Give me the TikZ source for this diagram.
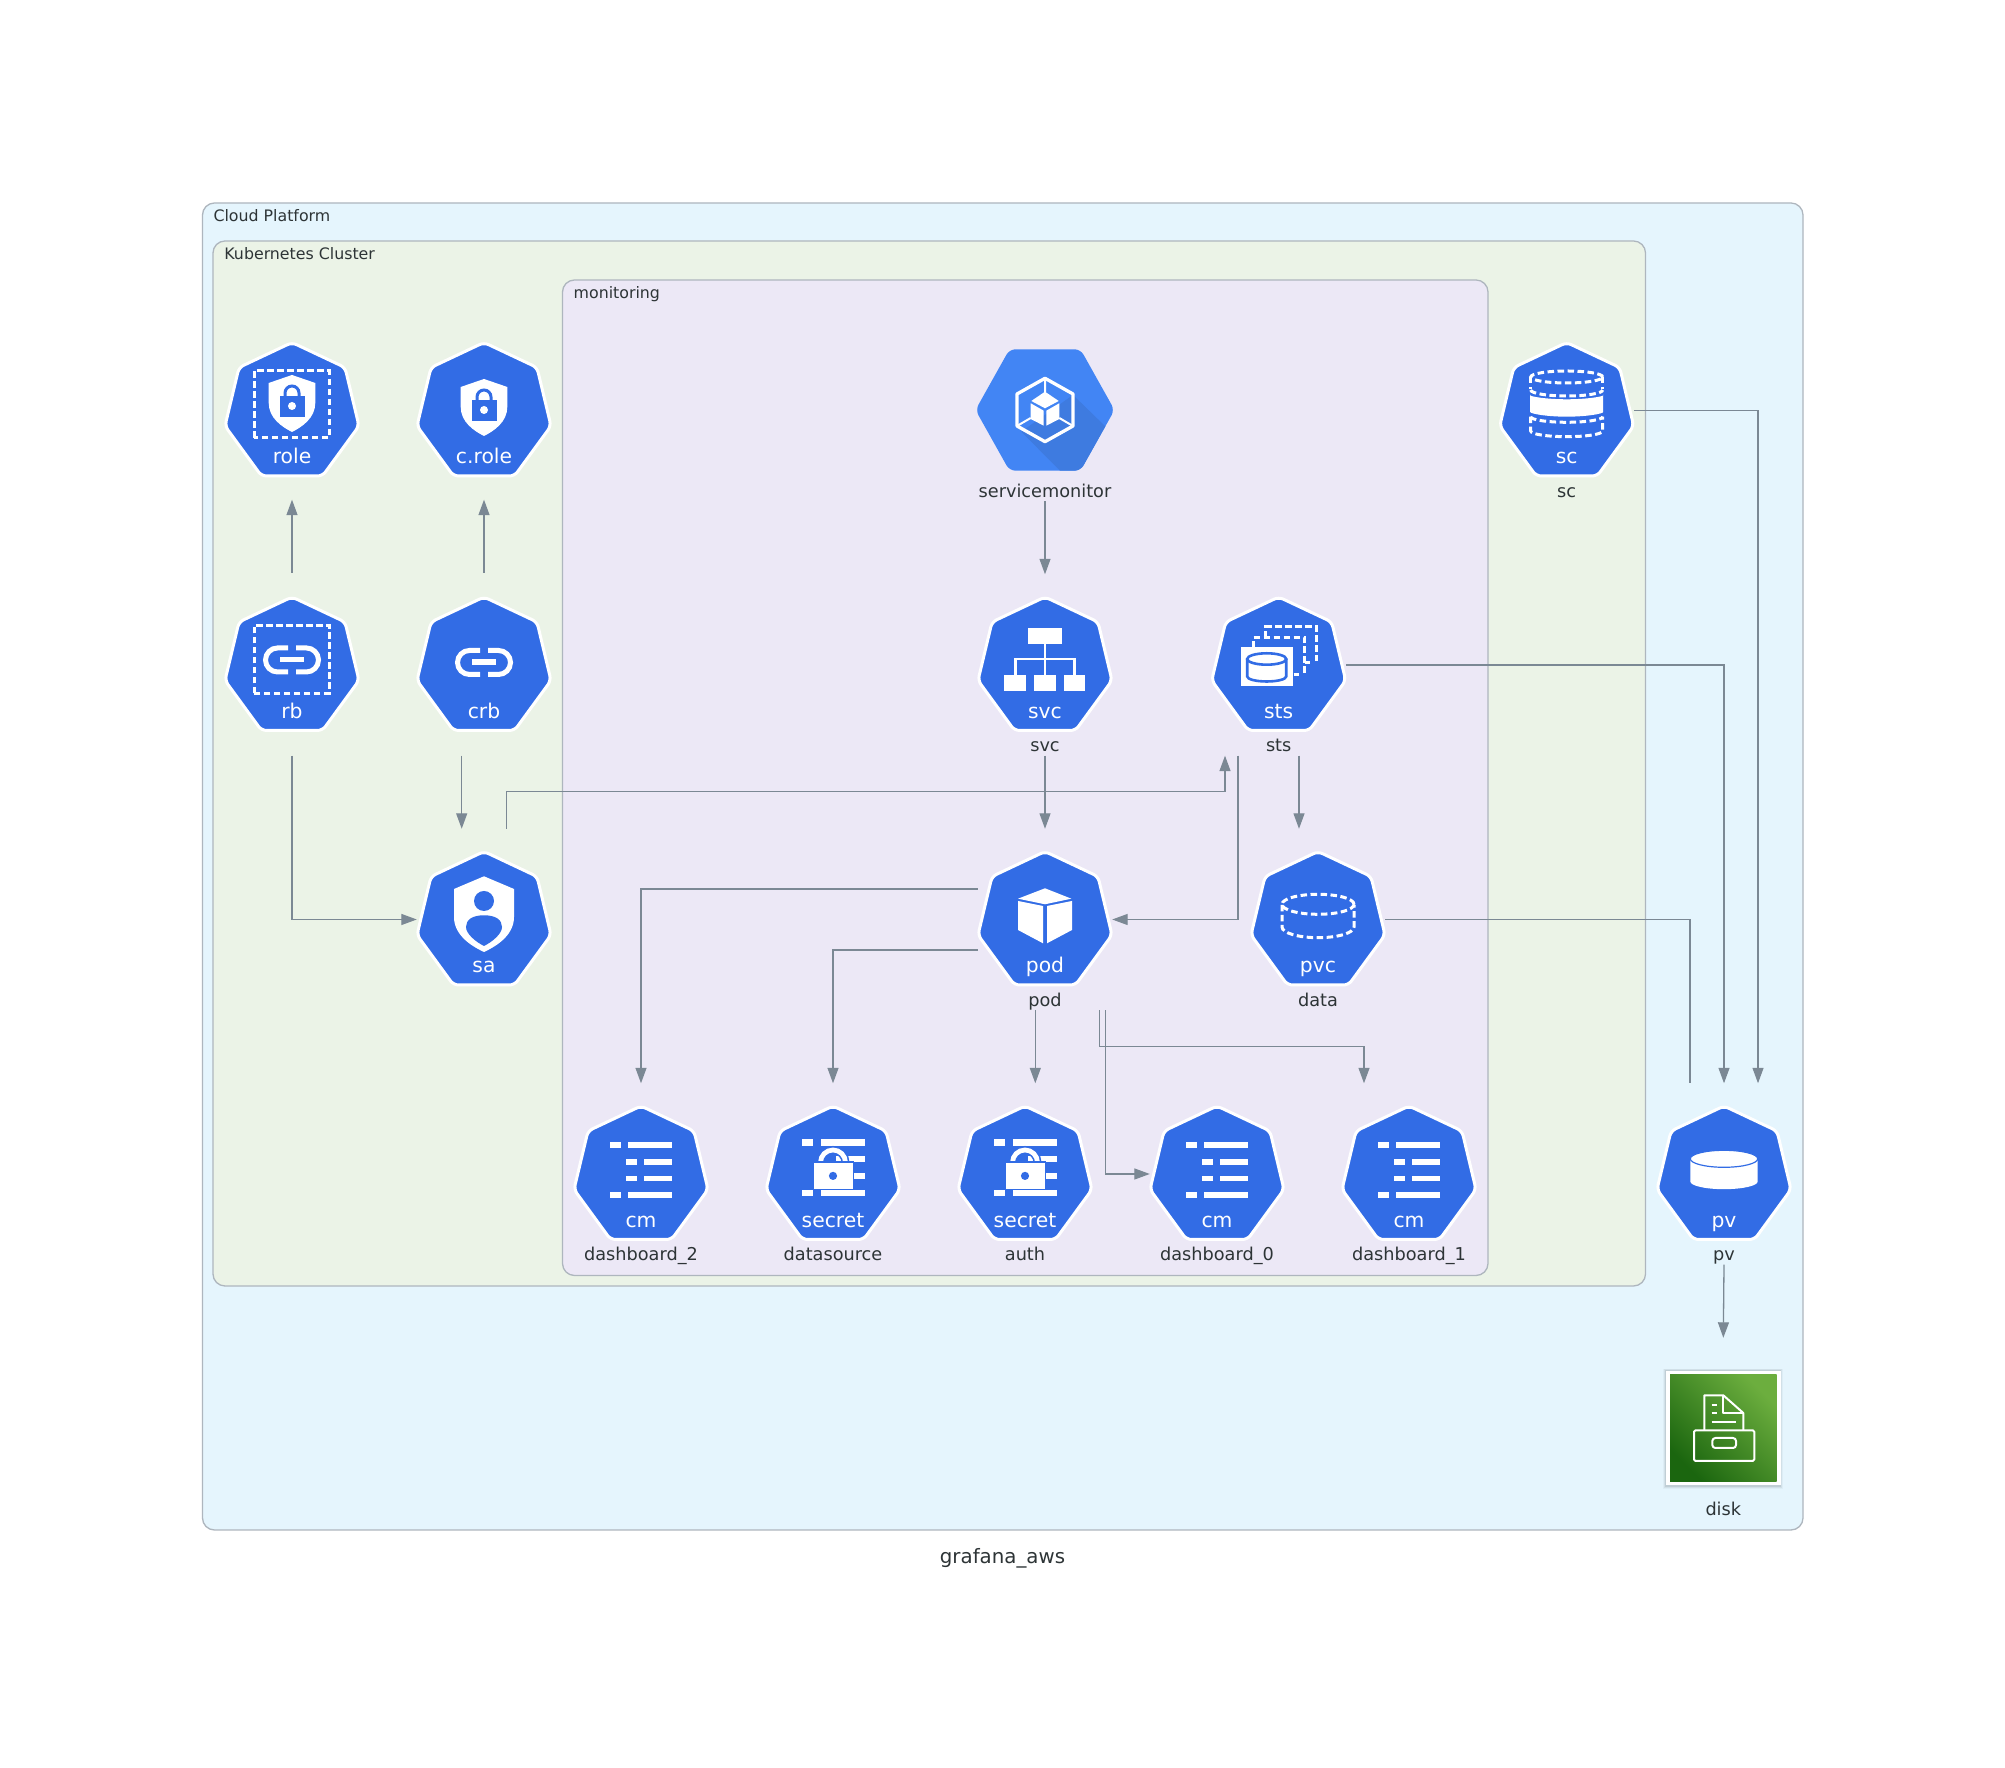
\documentclass[tikz,border=0pt]{standalone}
\usepackage{fontspec}
\setmainfont{DejaVu Sans}
\usetikzlibrary{arrows.meta}
\definecolor{cloudbg}{HTML}{E5F5FD}
\definecolor{clusterbg}{HTML}{EBF3E7}
\definecolor{nsbg}{HTML}{ECE8F6}
\definecolor{clusterline}{HTML}{AEB6BE}
\definecolor{edgegray}{HTML}{7B8894}
\definecolor{textgray}{HTML}{2D3436}
\definecolor{kubeblue}{HTML}{326CE5}
\definecolor{gcpblue}{HTML}{4285F4}
\definecolor{gcpshade}{HTML}{3E7BE0}
\definecolor{diskdark}{HTML}{1B660F}
\definecolor{disklight}{HTML}{6CAE3E}

\newcommand{\shieldlock}{
  \fill[white] (0,35) -- (23.3,27) -- (23.3,7) .. controls (23.3,-8) and (10,-17) .. (0,-22)
    .. controls (-10,-17) and (-23.3,-8) .. (-23.3,7) -- (-23.3,27) -- cycle;
  \draw[kubeblue, line width=3] (-7,12) -- (-7,17) arc (180:0:7) -- (7,12);
  \fill[kubeblue] (-12,-7) rectangle (12.5,14);
  \fill[white] (0,4) circle (4);
}
\newcommand{\chainlink}{
  \draw[white, line width=5] (-4,16.5) -- (-14.5,16.5) arc (90:270:12) -- (-4,-7.5);
  \draw[white, line width=5] (4,16.5) -- (14.5,16.5) arc (90:-90:12) -- (4,-7.5);
  \fill[white] (-12,2.3) rectangle (11.5,7.7);
}

\tikzset{
  boxline/.style={draw=clusterline, line width=1.3, rounded corners=12},
  edge/.style={draw=edgegray, line width=1.3, -{Triangle[length=15.5,width=11]}},
  plainedge/.style={draw=edgegray, line width=1.3},
  kubenode/.style={rectangle, inner sep=0, minimum width=134, minimum height=181},
  kubetext/.style={anchor=base, inner sep=0, text=white, font=\fontsize{20.3}{24}\selectfont},
  kubelabel/.style={anchor=base, inner sep=0, text=textgray, font=\fontsize{17.7}{21}\selectfont},
  boxlabel/.style={anchor=base west, inner sep=0, text=textgray, font=\fontsize{15.8}{19}\selectfont},
  dashline/.style={white, line width=3, dash pattern=on 6.5 off 3.5},
  kubehex/.pic={
    \draw[fill=kubeblue, draw=white, line width=3, rounded corners=5, line join=round]
      (0,67.5) -- (53,42.5) -- (67,-16) -- (30.5,-66) -- (-30.5,-66) -- (-67,-16) -- (-53,42.5) -- cycle;
  },
  role icon/.pic={
    \draw[dashline] (-38,-28) rectangle (37,39);
    \shieldlock
  },
  crole icon/.pic={
    \begin{scope}[shift={(0,-4)}] \shieldlock \end{scope}
  },
  rb icon/.pic={
    \draw[dashline] (-38,-29) rectangle (37,39);
    \chainlink
  },
  crb icon/.pic={
    \begin{scope}[shift={(0,-2.5)}] \chainlink \end{scope}
  },
  sa icon/.pic={
    \fill[white] (0,42.7) -- (30,30) -- (30,2) .. controls (30,-15) and (15,-26) .. (0,-33)
      .. controls (-15,-26) and (-30,-15) .. (-30,2) -- (-30,30) -- cycle;
    \fill[kubeblue] (0,18) circle (10);
    \fill[kubeblue] (0,3.7) .. controls (12,3.7) and (18,-1) .. (18,-8) .. controls (18,-15) and (8,-23) .. (0,-27)
      .. controls (-8,-23) and (-18,-15) .. (-18,-8) .. controls (-18,-1) and (-12,3.7) .. (0,3.7) -- cycle;
  },
  svc icon/.pic={
    \draw[white, line width=2.6] (0,20) -- (0,-11) (-29.5,-11) -- (-29.5,5.3) -- (29.5,5.3) -- (29.5,-11);
    \fill[white] (-17.3,20.3) rectangle (17.3,36);
    \foreach \i in {-40.7, -11, 18.5}
      \fill[white] (\i,-26.3) rectangle +(21.8,15.6);
  },
  sts icon/.pic={
    \draw[dashline] (-13,27) -- (-13,37.7) -- (38,37.7) -- (38,3);
    \draw[dashline] (-25,17) -- (-25,27) -- (26,27) -- (26,-11);
    \draw[white, line width=2.6] (15,-10) -- (20,-10) (26,2) -- (31,2);
    \fill[white] (-37.7,-22) rectangle (14.7,17);
    \draw[kubeblue, line width=2.6, fill=white] (-31.5,5.5) -- (-31.5,-12) arc (180:360:19.5 and 5) -- (7.5,5.5);
    \draw[kubeblue, line width=2.6, fill=white] (-12,5.5) ellipse (19.5 and 5.7);
  },
  pod icon/.pic={
    \fill[white] (0,30.7) -- (26.3,20.3) -- (0,14.7) -- (-27,20.3) -- cycle;
    \fill[white] (-27,18) -- (-2,13) -- (-2,-24.3) -- (-27,-11) -- cycle;
    \fill[white] (27,18) -- (2,13) -- (2,-24.3) -- (27,-11) -- cycle;
  },
  pvc icon/.pic={
    \draw[dashline] (0,14.7) ellipse (36 and 10);
    \draw[dashline] (-36,14) -- (-36,-8) arc (180:360:36 and 10.7) -- (36,14);
  },
  pv icon/.pic={
    \fill[white] (-33.7,14.7) -- (-33.7,-8) arc (180:360:33.7 and 7.7) -- (33.7,14.7) -- cycle;
    \draw[kubeblue, line width=1.2, fill=white] (0,14.7) ellipse (33.7 and 8.5);
  },
  sc icon/.pic={
    \draw[dashline] (0,33) ellipse (36 and 6);
    \draw[dashline] (-36,33) -- (-36,21) (36,33) -- (36,21);
    \draw[dashline] (-36,20) arc (180:360:36 and 6);
    \fill[white, rounded corners=2] (-36.5,16.7) arc (180:360:36.5 and 6) -- (36.5,0) arc (0:-180:36.5 and 6.7) -- cycle;
    \draw[dashline] (-36,-6.7) arc (180:360:36 and 5.6);
    \draw[dashline] (-36,-6.7) -- (-36,-21) arc (180:360:36 and 5.7) -- (36,-6.7);
  },
  cm icon/.pic={
    \foreach \ya/\yb in {25.8/31.7, -24.8/-18.9} {
      \fill[white] (-31.3,\ya) rectangle (-20.3,\yb);
      \fill[white] (-12.7,\ya) rectangle (31.3,\yb);
    }
    \foreach \ya/\yb in {8.6/14.5, -7.9/-2.4} {
      \fill[white] (-15.2,\ya) rectangle (-4.1,\yb);
      \fill[white] (3.4,\ya) rectangle (31.3,\yb);
    }
  },
  secret icon/.pic={
    \foreach \ya/\yb in {27.9/34.1, -22.4/-16.2} {
      \fill[white] (-31,\ya) rectangle (-20,\yb);
      \fill[white] (-12.4,\ya) rectangle (31.7,\yb);
    }
    \foreach \ya/\yb in {11.4/17.2, -5.5/0.3}
      \fill[white] (3.4,\ya) rectangle (31.7,\yb);
    \draw[kubeblue, line width=8] (-12.5,11) arc (180:0:12.5);
    \draw[white, line width=4.8] (-12.5,11) arc (180:0:12.5);
    \draw[kubeblue, line width=1.5, fill=white] (-19.6,-16.2) rectangle (20.3,11.4);
    \fill[kubeblue] (0,-2.4) circle (4.1);
  },
  monitor icon/.pic={
    \fill[gcpblue, rounded corners=6] (-69.5,0) -- (-35.5,60.7) -- (35.5,60.7) -- (69.5,0) -- (35.5,-60.7) -- (-35.5,-60.7) -- cycle;
    \begin{scope}
      \clip[rounded corners=6] (-69.5,0) -- (-35.5,60.7) -- (35.5,60.7) -- (69.5,0) -- (35.5,-60.7) -- (-35.5,-60.7) -- cycle;
      \fill[gcpshade] (28,15) -- (62,-18) -- (40,-62) -- (16.3,-62) -- (-23.7,-21.7) -- cycle;
    \end{scope}
    \draw[white, line width=3.3, line join=round] (0,31.7) -- (28,16) -- (28,-16) -- (0,-31.7) -- (-28,-16) -- (-28,16) -- cycle;
    \fill[white] (0,18.3) -- (13.7,9) -- (0,1.7) -- (-13.7,9) -- cycle;
    \fill[white] (-14.3,6.7) -- (-1.3,-0.7) -- (-1.3,-15.7) -- (-14.3,-9) -- cycle;
    \fill[white] (14.3,6.7) -- (1.3,-0.7) -- (1.3,-15.7) -- (14.3,-9) -- cycle;
    \draw[white, line width=2] (0,31.7) -- (0,18) (-28,-16) -- (-14.3,-8) (28,-16) -- (14.3,-8);
  },
  disk icon/.pic={
    \fill[black, opacity=0.03] (-60,-61.5) rectangle (60,59);
    \fill[black, opacity=0.05] (-59,-60.5) rectangle (59,58.5);
    \fill[black, opacity=0.08] (-58,-59) rectangle (58,58);
    \fill[white] (-57.3,-57.3) rectangle (57.3,57.3);
    \shade[left color=diskdark, right color=disklight, shading angle=135] (-53.3,-53.3) rectangle (53.3,53.3);
    \begin{scope}[white, line width=2, line join=round]
      \draw (-19,-2) -- (-19,32.7) -- (0,32.7) -- (20,15) -- (20,-2);
      \draw (0,32.7) -- (0,15) -- (20,15);
      \draw (-11.7,23.3) -- (-6,23.3) (-11.7,15) -- (-6,15) (-11.7,5.7) -- (12.7,5.7);
      \draw[rounded corners=1.5] (-29.3,-2.3) rectangle (31,-33);
      \draw[rounded corners=3] (-11,-10) rectangle (12.7,-20);
    \end{scope}
  },
}

\begin{document}
\begin{tikzpicture}[x=1pt, y=1pt]
  \useasboundingbox (0,0) rectangle (2005,1767);
  \fill[white] (0,0) rectangle (2005,1767);

  % clusters
  \draw[boxline, fill=cloudbg] (202.5,237) rectangle (1803,1564);
  \draw[boxline, fill=clusterbg] (213,481) rectangle (1645.5,1526);
  \draw[boxline, fill=nsbg] (562.5,491.5) rectangle (1488,1487);
  \node[boxlabel] (cloudlabel) at (213.3,1545) {Cloud Platform};
  \node[boxlabel] (clusterlabel) at (224.2,1507) {Kubernetes Cluster};
  \node[boxlabel] (nslabel) at (573.5,1468) {monitoring};

  % kubernetes nodes
  \foreach \name/\x/\y/\icon/\txt in {
    role/292/1356.5/role/role, crole/484/1356.5/crole/c.role,
    rb/292/1102/rb/rb, crb/484/1102/crb/crb, sa/484/847.5/sa/sa,
    sc/1566.7/1356.5/sc/sc,
    svc/1045/1102/svc/svc, sts/1278.7/1102/sts/sts,
    pod/1045/847.5/pod/pod, pvc/1318/847.5/pvc/pvc,
    dashtwo/641/593/cm/cm, datasource/833/593/secret/secret, auth/1025/593/secret/secret,
    dashzero/1217/593/cm/cm, dashone/1409/593/cm/cm, pv/1724/593/pv/pv} {
    \node[kubenode] (\name) at (\x,\y) {};
    \pic at ([yshift=0.5]\name.center) {kubehex};
    \pic at ([yshift=0.5]\name.center) {\icon\space icon};
    \node[kubetext] (\name-text) at ([yshift=-53.5]\name.center) {\txt};
  }
  \node[kubenode] (monitor) at (1045,1356.5) {};
  \pic at ([yshift=0.5]monitor.center) {monitor icon};
  \node[kubenode, minimum width=114.7, minimum height=180] (disk) at (1723.3,339) {};
  \pic at (disk.center) {disk icon};

  % labels under the icons
  \foreach \name/\txt in {
    monitor/servicemonitor, sc/sc, svc/svc, sts/sts, pod/pod, pvc/data,
    dashtwo/dashboard\_2, datasource/datasource, auth/auth,
    dashzero/dashboard\_0, dashone/dashboard\_1, pv/pv}
    \node[kubelabel] (\name-label) at ([yshift=-87]\name.center) {\txt};
  \node[kubelabel] (disk-label) at ([yshift=-88]disk.center) {disk};
  \node[anchor=base, inner sep=0, text=textgray, font=\fontsize{19.8}{24}\selectfont] (title) at (1002.5,203.5) {grafana\_aws};

  % edges
  \draw[edge] (monitor.south) -- (svc.north);
  \draw[edge] ([yshift=1.5]rb.north) -- ([yshift=1.5]role.south);
  \draw[edge] ([yshift=1.5]crb.north) -- ([yshift=1.5]crole.south);
  \draw[edge] (rb.south) |- (sa.west);
  \draw[edge] ([xshift=-22.3]crb.south) -- ([xshift=-22.3]sa.north);
  \draw[edge] ([xshift=22.3]sa.north) -- ++(0,37.5) -| ([xshift=-53.7]sts.south);
  \draw[edge] ([xshift=-40.7]sts.south) |- (pod.east);
  \draw[edge] ([xshift=20.3]sts.south) -- ([xshift=-19]pvc.north);
  \draw[edge] (svc.south) -- (pod.north);
  \draw[edge] (sts.east) -| (pv.north);
  \draw[edge] (sc.east) -| ([xshift=34]pv.north);
  \draw[plainedge] (pvc.east) -| ([xshift=-34]pv.north);
  \draw[edge] ([yshift=30.5]pod.west) -| (dashtwo.north);
  \draw[edge] ([yshift=-30.5]pod.west) -| (datasource.north);
  \draw[edge] ([xshift=-9.7]pod.south) -- ([xshift=10.3]auth.north);
  \draw[edge] ([xshift=60.7]pod.south) |- (dashzero.west);
  \draw[edge] ([xshift=54.3]pod.south) -- ++(0,-36.5) -| ([xshift=-45]dashone.north);
  \draw[edge] (pv.south) -- (disk.north);
\end{tikzpicture}
\end{document}
